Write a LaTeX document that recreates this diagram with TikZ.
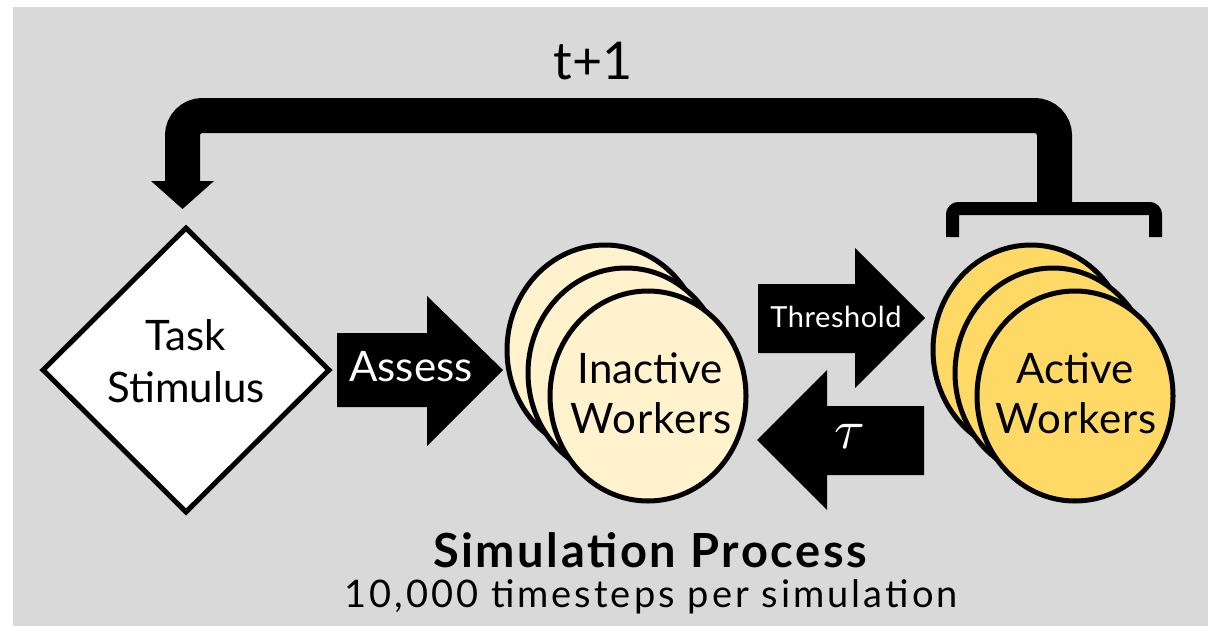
\documentclass[tikz,border=0pt]{standalone}
\usepackage{fontspec}
\setmainfont{Lato}
\newfontfamily\widefont[LetterSpace=8]{Lato}
\newfontfamily\titlefont[LetterSpace=5.5]{Lato}
\usetikzlibrary{shapes.geometric}
\definecolor{bgc}{HTML}{D9D9D9}
\definecolor{inact}{HTML}{FFF2CC}
\definecolor{act}{HTML}{FFD966}
\begin{document}
\begin{tikzpicture}[x=1pt,y=-1pt,
  worker/.style={ellipse, draw=black, line width=5pt, minimum width=196pt, minimum height=210pt, inner sep=0pt},
  lbl/.style={font=\fontsize{42}{50}\selectfont, anchor=base, inner sep=0pt},
  blockarrow/.style={fill=black},
  wlbl/.style={lbl, text=white}]
\useasboundingbox (0,0) rectangle (1217,626);
\fill[white] (0,0) rectangle (1217,626);
\fill[bgc] (13,7) rectangle (1208,626);

% feedback loop
\draw[line width=13pt, rounded corners=6pt] (952.5,237) -- (952.5,208.5) -- (1155.5,208.5) -- (1155.5,237);
\coordinate (brk) at (1054.5,206);
\coordinate (loopend) at (182.5,182);
\draw[line width=35pt, rounded corners=20pt] (brk) -- (1054.5,115.5) -| (loopend);
\fill (151,181) -- (214,181) -- (182.5,209) -- cycle;
\node[lbl, font=\fontsize{52}{60}\selectfont] (tp1) at (593,79) {t+1};

% task stimulus
\node[diamond, draw=black, fill=white, line width=5pt, minimum width=288pt, minimum height=286pt, inner sep=0pt, aspect=1] (task) at (186,370) {};
\node[lbl] (task1) at (186,350) {Task};
\node[lbl] (task2) at (186,402) {Stimulus};

% inactive workers
\node[worker, fill=inact] (in3) at (605,350) {};
\node[worker, fill=inact] (in2) at (626,373) {};
\node[worker, fill=inact] (in1) at (648,396) {};
\node[lbl] at (650,383) {Inactive};
\node[lbl] at (651,433) {\addfontfeature{LetterSpace=2}Workers};

% active workers
\node[worker, fill=act] (ac3) at (1031,350) {};
\node[worker, fill=act] (ac2) at (1053,373) {};
\node[worker, fill=act] (ac1) at (1075,396) {};
\node[lbl] at (1075,383) {Active};
\node[lbl] at (1076,433) {\addfontfeature{LetterSpace=2}Workers};

% block arrows
\fill[blockarrow] (337,333) -- (427,333) -- (427,296) -- (503,370) -- (427,446) -- (427,407) -- (337,407) -- cycle;
\node[wlbl] (assess) at (411,381) {Assess};
\fill[blockarrow] (758,284) -- (855,284) -- (855,248) -- (925,318) -- (855,388) -- (855,353) -- (758,353) -- cycle;
\node[wlbl, font=\fontsize{29}{34}\selectfont\addfontfeature{LetterSpace=2}] (thr) at (836,327) {Threshold};
\fill[blockarrow] (924,406) -- (827,406) -- (827,370) -- (757,440) -- (827,510) -- (827,475) -- (924,475) -- cycle;
\node[text=white, inner sep=0pt] (tau) at (850,436) {\scalebox{5.6}{$\tau$}};

% caption
\node[lbl, font=\fontsize{47}{56}\selectfont\titlefont\bfseries] (title) at (650,567) {Simulation Process};
\node[lbl, font=\fontsize{38}{46}\selectfont\widefont] (sub) at (651,607) {10,000 timesteps per simulation};
\end{tikzpicture}
\end{document}
